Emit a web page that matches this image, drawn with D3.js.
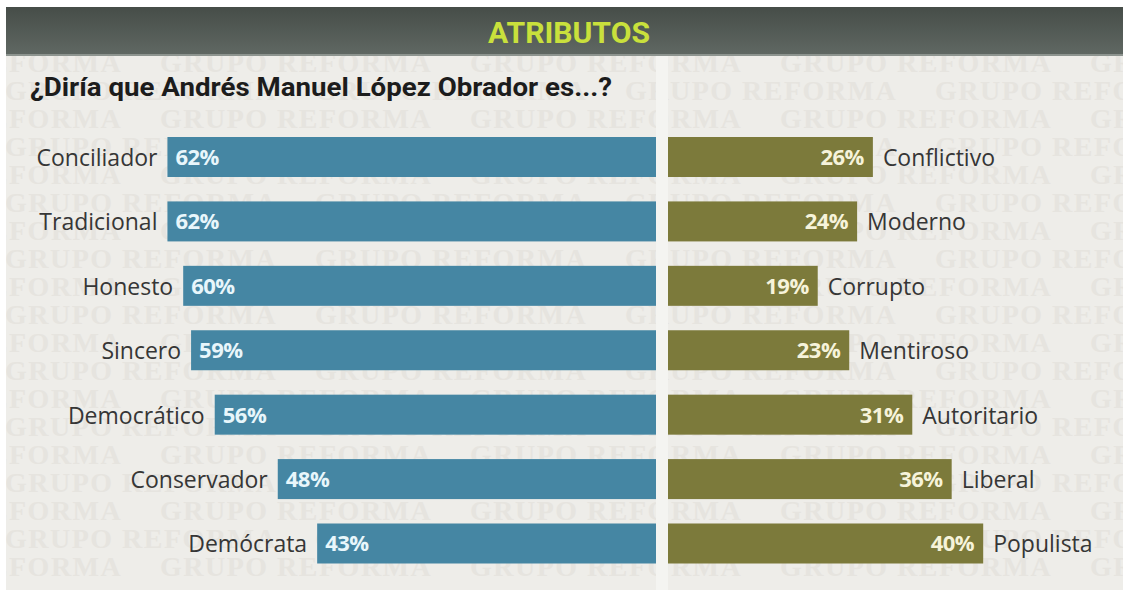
<!DOCTYPE html>
<html><head><meta charset="utf-8">
<script src="https://cdn.jsdelivr.net/npm/d3@7"></script>
<style>html,body{margin:0;padding:0;background:#fff;}svg{display:block;}</style>
</head><body>
<svg id="chart" width="1123" height="590"></svg>
<script>
const leftCategories = ["Conciliador","Tradicional","Honesto","Sincero","Democrático","Conservador","Demócrata"];
const leftValues = [62,62,60,59,56,48,43];
const rightCategories = ["Conflictivo","Moderno","Corrupto","Mentiroso","Autoritario","Liberal","Populista"];
const rightValues = [26,24,19,23,31,36,40];
const headerTitle = "ATRIBUTOS";
const question = "¿Diría que Andrés Manuel López Obrador es...?";
const watermark = "GRUPO REFORMA";

const svg = d3.select("#chart");
const W = 1123, H = 590;
const font = "'Open Sans', 'DejaVu Sans', sans-serif";

// background
svg.append("rect").attr("x",6).attr("y",7).attr("width",W-6).attr("height",H-7).attr("fill","#eeede9");

// faint watermark, clipped to the panel
svg.append("defs").append("clipPath").attr("id","panel")
  .append("rect").attr("x",6).attr("y",56).attr("width",W-6).attr("height",H-56);
const wm = svg.append("g").attr("clip-path","url(#panel)")
  .attr("font-family","'Liberation Serif','DejaVu Serif',serif")
  .attr("font-weight","bold").attr("font-size",28).attr("fill","#e6e4df").attr("letter-spacing",1.5);
d3.range(0,19).forEach(r=>{
  const yy = 72 + r*28;
  const off = (r%2===0) ? -150 : 5;
  d3.range(0,5).forEach(k=>{
    wm.append("text").attr("x", off + k*310).attr("y", yy).text(watermark);
  });
});

// lighter centre strip
svg.append("rect").attr("x",656).attr("y",56).attr("width",12).attr("height",H-56).attr("fill","#f4f4f1");

// header
const grad = svg.select("defs").append("linearGradient").attr("id","hg").attr("x1",0).attr("x2",0).attr("y1",0).attr("y2",1);
grad.append("stop").attr("offset","0%").attr("stop-color","#464d48");
grad.append("stop").attr("offset","100%").attr("stop-color","#606863");
svg.append("rect").attr("x",6).attr("y",7).attr("width",W-6).attr("height",48).attr("fill","url(#hg)");
svg.append("rect").attr("x",6).attr("y",54).attr("width",W-6).attr("height",2).attr("fill","#8d948f");
svg.append("text").attr("x",569).attr("y",43).attr("text-anchor","middle")
  .attr("font-family","'Roboto', sans-serif").attr("font-weight","bold").attr("font-size",30)
  .attr("fill","#c9e03c").attr("textLength",162).attr("lengthAdjust","spacingAndGlyphs").text(headerTitle);

// question
svg.append("text").attr("x",30).attr("y",96)
  .attr("font-family","'Roboto', sans-serif").attr("font-weight","bold").attr("font-size",25)
  .attr("fill","#1c1c1c").attr("textLength",582).attr("lengthAdjust","spacingAndGlyphs").text(question);

// scales
const x = d3.scaleLinear().domain([0,100]).range([0,788]);
const y = d3.scaleBand().domain(d3.range(7)).range([137,563.5]).paddingInner(0.379).paddingOuter(0);
const centerL = 656, centerR = 668;
const bw = y.bandwidth();

const left = svg.append("g");
const lrows = left.selectAll("g").data(leftValues).join("g");
lrows.append("rect").attr("x",d=>centerL - x(d)).attr("y",(d,i)=>y(i)).attr("width",d=>x(d)).attr("height",bw).attr("fill","#4586a3");
lrows.append("text").attr("x",d=>centerL - x(d) + 8).attr("y",(d,i)=>y(i)+bw/2+8)
  .attr("font-family",font).attr("font-weight","bold").attr("font-size",22).attr("letter-spacing",-0.5)
  .attr("fill","#e8f6fb").text(d=>d+"%");
lrows.append("text").attr("x",d=>centerL - x(d) - 10).attr("y",(d,i)=>y(i)+bw/2+9)
  .attr("text-anchor","end").attr("font-family",font).attr("font-size",23)
  .attr("fill","#363636").text((d,i)=>leftCategories[i]);

const right = svg.append("g");
const rrows = right.selectAll("g").data(rightValues).join("g");
rrows.append("rect").attr("x",centerR).attr("y",(d,i)=>y(i)).attr("width",d=>x(d)).attr("height",bw).attr("fill","#7c7a3b");
rrows.append("text").attr("x",d=>centerR + x(d) - 9).attr("y",(d,i)=>y(i)+bw/2+8)
  .attr("text-anchor","end").attr("font-family",font).attr("font-weight","bold").attr("font-size",22).attr("letter-spacing",-0.5)
  .attr("fill","#f6f3da").text(d=>d+"%");
rrows.append("text").attr("x",d=>centerR + x(d) + 10).attr("y",(d,i)=>y(i)+bw/2+9)
  .attr("font-family",font).attr("font-size",23)
  .attr("fill","#363636").text((d,i)=>rightCategories[i]);
</script>
</body></html>
